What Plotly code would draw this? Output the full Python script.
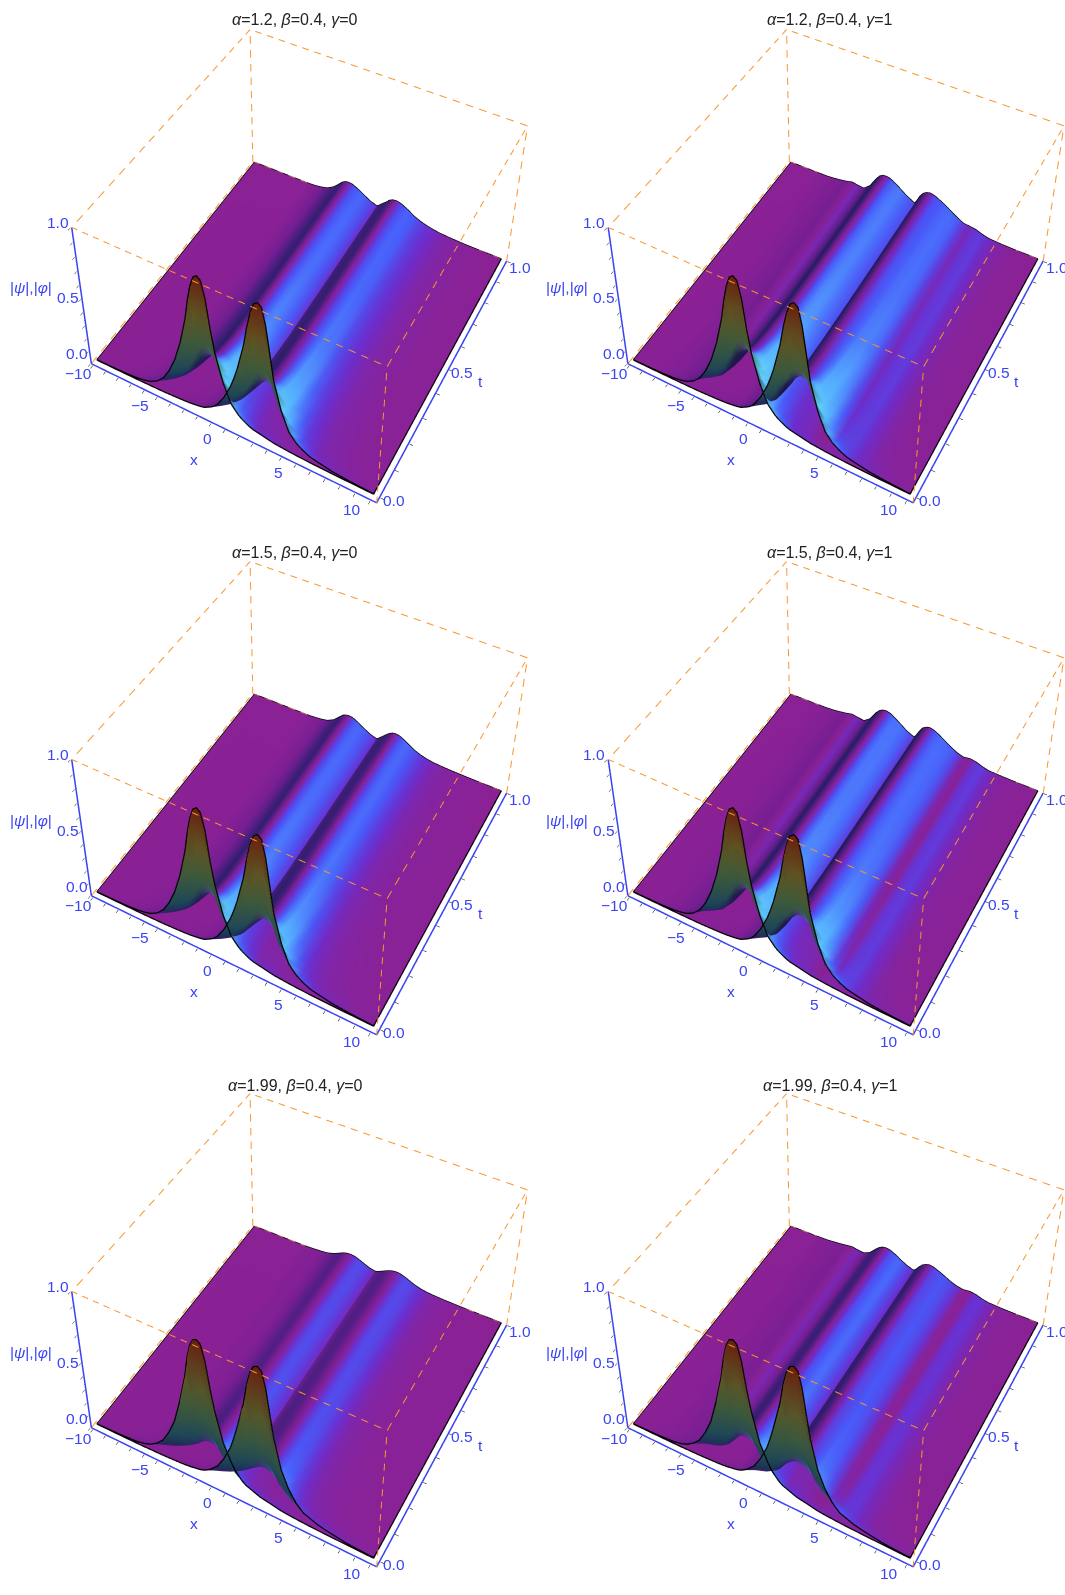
import numpy as np
import plotly.graph_objects as go

# x grid shared by every profile (rows below are split the same way)
x_vals = [-10, -8.9, -7.85, -6.8, -6.25, -5.75, -5.25, -4.75, -4.25, -3.75, -3.25, -2.75,
          -2.5, -2.25, -2, -1.75, -1.5, -1.25, -1, -0.75, -0.25,
          0.25, 0.5, 0.75, 1, 1.25, 1.5, 1.75, 2, 2.25, 2.5, 2.75,
          3.25, 3.75, 4.25, 4.75, 5.25, 5.75, 6.25, 7.25, 8.2, 9.1, 10]
t_vals = [0, 0.01, 0.02, 0.03, 0.05, 0.08, 0.12, 0.2, 0.35, 0.6, 1]

# how much of the t=0 wall is left at each t
decay_12 = [1, 0.72, 0.52, 0.38, 0.26, 0.18, 0.12, 0.07, 0.03, 0.01, 0]
decay_15 = [1, 0.68, 0.46, 0.33, 0.21, 0.14, 0.09, 0.05, 0.02, 0.006, 0]
decay_199 = [1, 0.62, 0.38, 0.22, 0.1, 0.06, 0.035, 0.018, 0.007, 0.002, 0]

# profiles at t=0
psi_front_12 = [.002, .004, .007, .015, .025, .04, .07, .12, .2, .31, .46, .66,
                .8, .91, .98, 1, .98, .87, .66, .5, .3,
                .17, .14, .11, .09, .075, .06, .05, .045, .04, .035, .03,
                .02, .016, .012, .009, .007, .005, .004, .002, .001, .001, 0]
phi_front_12 = [0, 0, .001, .002, .003, .004, .005, .006, .009, .012, .015, .02,
                .024, .028, .033, .04, .055, .07, .09, .12, .2,
                .31, .38, .46, .56, .66, .8, .91, .98, 1, .98, .87,
                .5, .3, .17, .11, .075, .05, .04, .02, .012, .007, .004]
psi_front_199 = [.002, .005, .009, .018, .03, .05, .085, .135, .22, .33, .5, .7,
                 .84, .94, .99, 1, .98, .88, .7, .55, .34,
                 .22, .17, .14, .11, .09, .08, .07, .06, .05, .045, .04,
                 .03, .02, .015, .012, .009, .007, .005, .003, .002, .001, 0]
phi_front_199 = [0, 0, .001, .002, .003, .005, .006, .008, .011, .014, .018, .024,
                 .03, .034, .04, .05, .065, .085, .11, .135, .22,
                 .33, .41, .5, .6, .7, .84, .94, .99, 1, .98, .88,
                 .55, .34, .22, .14, .09, .07, .05, .03, .015, .009, .005]

# profiles at t=1
psi_12_g0 = [0, 0, 0, 0, 0, 0, 0, .003, .01, .022, .05, .095,
             .118, .13, .132, .128, .118, .106, .092, .078, .05,
             .035, .03, .025, .02, .016, .013, .011, .009, .007, .006, .005,
             .003, .002, .001, 0, 0, 0, 0, 0, 0, 0, 0]
phi_12_g0 = [0, 0, 0, 0, 0, 0, 0, 0, 0, 0, 0, 0,
             0, 0, 0, 0, .001, .002, .003, .005, .014,
             .03, .047, .07, .09, .115, .128, .132, .128, .12, .108, .095,
             .065, .045, .03, .02, .012, .008, .005, .001, 0, 0, 0]
psi_12_g1 = [0, 0, 0, .001, .006, .012, .02, .032, .024, .02, .06, .135,
             .165, .18, .183, .18, .17, .155, .14, .122, .09,
             .065, .055, .048, .04, .034, .03, .026, .022, .018, .015, .012,
             .008, .012, .014, .01, .005, .002, .001, 0, 0, 0, 0]
phi_12_g1 = [0, 0, 0, 0, 0, 0, 0, 0, 0, 0, 0, 0,
             0, 0, 0, .001, .004, .008, .012, .014, .015,
             .04, .075, .125, .16, .176, .183, .18, .172, .16, .148, .135,
             .105, .075, .05, .045, .038, .02, .008, .002, 0, 0, 0]
psi_15_g0 = [0, 0, 0, 0, 0, 0, 0, .004, .009, .018, .042, .085,
             .108, .118, .122, .118, .108, .095, .08, .066, .04,
             .025, .02, .016, .012, .01, .008, .007, .006, .005, .004, .003,
             .002, .001, 0, 0, 0, 0, 0, 0, 0, 0, 0]
phi_15_g0 = [0, 0, 0, 0, 0, 0, 0, 0, 0, 0, 0, 0,
             0, 0, 0, 0, 0, .001, .002, .003, .01,
             .022, .04, .062, .085, .105, .118, .122, .118, .108, .095, .08,
             .052, .033, .02, .012, .008, .005, .003, .001, 0, 0, 0]
psi_15_g1 = [0, 0, 0, .002, .006, .012, .02, .03, .022, .016, .05, .12,
             .145, .158, .162, .158, .148, .132, .116, .1, .066,
             .045, .038, .032, .028, .024, .022, .02, .017, .014, .012, .01,
             .007, .01, .012, .008, .004, .002, 0, 0, 0, 0, 0]
phi_15_g1 = [0, 0, 0, 0, 0, 0, 0, 0, 0, 0, 0, 0,
             0, 0, 0, .002, .006, .01, .014, .016, .014,
             .03, .06, .105, .14, .155, .162, .158, .148, .135, .12, .105,
             .075, .05, .035, .042, .036, .018, .006, .002, 0, 0, 0]
psi_199_g0 = [0, 0, 0, 0, 0, 0, .002, .005, .008, .014, .028, .05,
              .062, .07, .074, .074, .07, .062, .052, .042, .024,
              .015, .012, .01, .008, .007, .006, .005, .004, .004, .003, .003,
              .002, .001, .001, 0, 0, 0, 0, 0, 0, 0, 0]
phi_199_g0 = [0, 0, 0, 0, 0, 0, 0, 0, 0, 0, 0, 0,
              0, 0, 0, .001, .001, .002, .003, .005, .011,
              .018, .028, .04, .052, .063, .071, .075, .075, .07, .062, .052,
              .032, .018, .01, .006, .004, .002, .001, 0, 0, 0, 0]
psi_199_g1 = [0, 0, 0, .003, .008, .013, .02, .026, .018, .014, .036, .085,
              .105, .118, .122, .12, .112, .1, .088, .072, .048,
              .032, .028, .024, .02, .018, .017, .015, .013, .011, .01, .008,
              .008, .011, .012, .007, .003, .001, 0, 0, 0, 0, 0]
phi_199_g1 = [0, 0, 0, 0, 0, 0, 0, 0, 0, 0, 0, 0,
              0, 0, 0, .002, .006, .01, .013, .014, .012,
              .024, .045, .075, .1, .113, .12, .118, .11, .1, .09, .078,
              .055, .038, .03, .036, .03, .014, .005, .001, 0, 0, 0]

x_range = [-10.15, 10.4]
t_range = [-0.02, 1.0]
z_range = [0, 1]
x_ticks = list(range(-10, 11))
t_ticks = [0, .1, .2, .3, .4, .5, .6, .7, .8, .9, 1]
z_ticks = t_ticks
x_labels = {-10: "−10", -5: "−5", 0: "0", 5: "5", 10: "10"}
t_labels = {0: "0.0", 0.5: "0.5", 1: "1.0"}
z_labels = {0: "0.0", 0.5: "0.5", 1: "1.0"}

panels = [
    ("1.2", "0", psi_front_12, phi_front_12, psi_12_g0, phi_12_g0, decay_12),
    ("1.2", "1", psi_front_12, phi_front_12, psi_12_g1, phi_12_g1, decay_12),
    ("1.5", "0", psi_front_12, phi_front_12, psi_15_g0, phi_15_g0, decay_15),
    ("1.5", "1", psi_front_12, phi_front_12, psi_15_g1, phi_15_g1, decay_15),
    ("1.99", "0", psi_front_199, phi_front_199, psi_199_g0, phi_199_g0, decay_199),
    ("1.99", "1", psi_front_199, phi_front_199, psi_199_g1, phi_199_g1, decay_199),
]

W, H = 1065, 1595
PAD = 544  # the figure starts this far above the window, the tall scenes need the room
BLUE = "#3a44f2"
ORANGE = "#f7962e"
FONT = "Liberation Sans"

# scene rectangles in page pixels; the tall ones are what gets the perspective right
col_px = [(0, 543.8), (551.6, 1065)]
row_px = [(-543.2, 543.2), (-11, 1075.4), (521.2, 1607.6)]
camera = dict(eye=dict(x=1.27, y=-2.48, z=3.119), center=dict(x=0.124, y=-0.439, z=1.315),
              up=dict(x=-0.05, y=0.102, z=1))
aspect = dict(x=1, y=1.034, z=0.631)

# colour of the lit surface against the falling slope in x
slope_stops = [-4, -2, -1, -0.4, 0, 0.4, 1, 2, 4]
slope_r = [30, 50, 78, 118, 138, 110, 72, 85, 100]
slope_g = [22, 30, 30, 30, 34, 45, 90, 175, 210]
slope_b = [70, 110, 130, 147, 150, 205, 250, 255, 250]
# colour of the steep wall at t=0 against height
wall_stops = [0, 0.2, 0.45, 0.7, 1]
wall_r = [25, 30, 60, 95, 105]
wall_g = [25, 70, 90, 85, 30]
wall_b = [70, 90, 60, 35, 15]


def shade(z):
    gx = np.gradient(z, x_vals, axis=1)
    gt = np.gradient(z, t_vals, axis=0)
    s = -gx / 0.05
    wf = np.clip((np.abs(gt) - 2) / 3, 0, 1)
    rgb = []
    for ls, lw in [(slope_r, wall_r), (slope_g, wall_g), (slope_b, wall_b)]:
        rgb.append(np.interp(s, slope_stops, ls) * (1 - wf) + np.interp(z, wall_stops, lw) * wf)
    return [f"rgb({int(r)},{int(g)},{int(b)})" for r, g, b in zip(*[c.ravel() for c in rgb])]


def surface_traces(front, back, decay, scene):
    front, back, decay = np.array(front), np.array(back), np.array(decay)
    z = back + decay[:, None] * (front - back)
    X, T = np.meshgrid(x_vals, t_vals)
    nx, nt = len(x_vals), len(t_vals)
    idx = np.arange(nx * nt).reshape(nt, nx)
    a, b, c, d = idx[:-1, :-1].ravel(), idx[:-1, 1:].ravel(), idx[1:, 1:].ravel(), idx[1:, :-1].ravel()
    mesh = go.Mesh3d(x=X.ravel(), y=T.ravel(), z=z.ravel(),
                     i=np.r_[a, a], j=np.r_[b, c], k=np.r_[c, d],
                     vertexcolor=shade(z), flatshading=False, hoverinfo="skip", scene=scene,
                     lighting=dict(ambient=1, diffuse=0, specular=0, roughness=1, fresnel=0))
    # black outline: t=0, t=1 and the two sides
    ex = list(x_vals) + [None] + list(x_vals) + [None] + [x_vals[0]] * nt + [None] + [x_vals[-1]] * nt
    et = [0] * nx + [None] + [1] * nx + [None] + list(t_vals) + [None] + list(t_vals)
    ez = list(z[0]) + [None] + list(z[-1]) + [None] + list(z[:, 0]) + [None] + list(z[:, -1])
    edge = go.Scatter3d(x=ex, y=et, z=ez, mode="lines", line=dict(color="#000000", width=2.5),
                        hoverinfo="skip", showlegend=False, scene=scene)
    return [mesh, edge]


def box_traces(scene):
    x0, x1 = x_range
    t0, t1 = t_range
    z0, z1 = z_range
    # (from, to, number of dashes)
    edges = [((x0, t0, z1), (x1, t0, z1), 27), ((x1, t0, z1), (x1, t1, z1), 21),
             ((x1, t1, z1), (x0, t1, z1), 22), ((x0, t1, z1), (x0, t0, z1), 19),
             ((x0, t0, z0), (x0, t1, z0), 19), ((x0, t1, z0), (x1, t1, z0), 20),
             ((x1, t0, z0), (x1, t0, z1), 11), ((x1, t1, z0), (x1, t1, z1), 10),
             ((x0, t1, z0), (x0, t1, z1), 10)]
    ex, et, ez = [], [], []
    for p, q, n in edges:
        p, q = np.array(p, float), np.array(q, float)
        for m in range(n):
            a = p + (q - p) * m / n
            b = p + (q - p) * (m + 0.55) / n
            ex += [a[0], b[0], None]
            et += [a[1], b[1], None]
            ez += [a[2], b[2], None]
    dashes = go.Scatter3d(x=ex, y=et, z=ez, mode="lines", line=dict(color=ORANGE, width=2),
                          hoverinfo="skip", showlegend=False, scene=scene)
    axes = go.Scatter3d(x=[x0, x0, None, x0, x1, x1], y=[t0, t0, None, t0, t0, t1], z=[z1, z0, None, z0, z0, z0],
                        mode="lines", line=dict(color=BLUE, width=3),
                        hoverinfo="skip", showlegend=False, scene=scene)
    return [dashes, axes]


def axis(rng, ticks, eps):
    # a little wider than the box so the box lines are not cut at the scene bounds
    return dict(title=dict(text=""), range=[rng[0] - eps, rng[1] + eps], tickmode="array", tickvals=ticks,
                showticklabels=False, ticks="outside", ticklen=3, tickcolor="#000000", showline=False,
                showgrid=False, zeroline=False, showbackground=False, showspikes=False)


def label(x, y, z, text, dx, dy):
    return dict(x=x, y=y, z=z, text=text, showarrow=False, xanchor="center", yanchor="middle",
                xshift=dx, yshift=-dy, font=dict(family=FONT, size=15.5, color=BLUE))


def scene_labels():
    out = []
    for v, s in x_labels.items():
        out.append(label(v, t_range[0], 0, s, -15 if v == -10 else -18, 9))
    for v, s in t_labels.items():
        out.append(label(x_range[1], v, 0, s, 14, 6 if v == 1 else 3))
    for v, s in z_labels.items():
        out.append(label(x_range[0], t_range[0], v, s, -14, {0: -10, 0.5: -1, 1: -5}[v]))
    out.append(label(0, t_range[0], 0, "x", -31, 30))
    out.append(label(x_range[1], 0.5, 0, "t", 32, 12))
    out.append(label(x_range[0], t_range[0], 0.5, "|<i>ψ</i>|,|<i>φ</i>|", -51, -11))
    return out


fig = go.Figure()
layout = {}
notes = []
full_h = PAD + 1608
for n, (alpha, gamma, f_psi, f_phi, b_psi, b_phi, decay) in enumerate(panels):
    row, col = n // 2, n % 2
    name = "scene" if n == 0 else f"scene{n + 1}"
    fig.add_traces(surface_traces(f_psi, b_psi, decay, name))
    fig.add_traces(surface_traces(f_phi, b_phi, decay, name))
    fig.add_traces(box_traces(name))
    xa, xb = col_px[col]
    ya, yb = row_px[row]
    layout[name] = dict(
        domain=dict(x=[xa / W, xb / W], y=[1 - (yb + PAD) / full_h, 1 - (ya + PAD) / full_h]),
        aspectmode="manual",
        aspectratio=aspect,
        camera=camera,
        bgcolor="rgba(0,0,0,0)",
        xaxis=axis(x_range, x_ticks, 0.05),
        yaxis=axis(t_range, t_ticks, 0.003),
        zaxis=axis(z_range, z_ticks, 0.003),
        annotations=scene_labels(),
    )
    notes.append(dict(text=f"<i>α</i>={alpha}, <i>β</i>=0.4, <i>γ</i>={gamma}",
                      x=(295 + 535 * col) / W, y=1 - (PAD + 19 + 533 * row) / full_h, xref="paper", yref="paper",
                      xanchor="center", yanchor="middle", showarrow=False,
                      font=dict(family=FONT, size=16, color="#222222")))

fig.update_layout(width=W, height=full_h, margin=dict(l=0, r=0, t=0, b=0), autosize=False,
                  showlegend=False, paper_bgcolor="white", annotations=notes, **layout)
fig.write_html("out.html", config={"displayModeBar": False},
               post_script=f"document.body.style.margin='0';document.body.style.overflow='hidden';"
                           f"document.querySelector('.plotly-graph-div').style.marginTop='-{PAD}px';")
